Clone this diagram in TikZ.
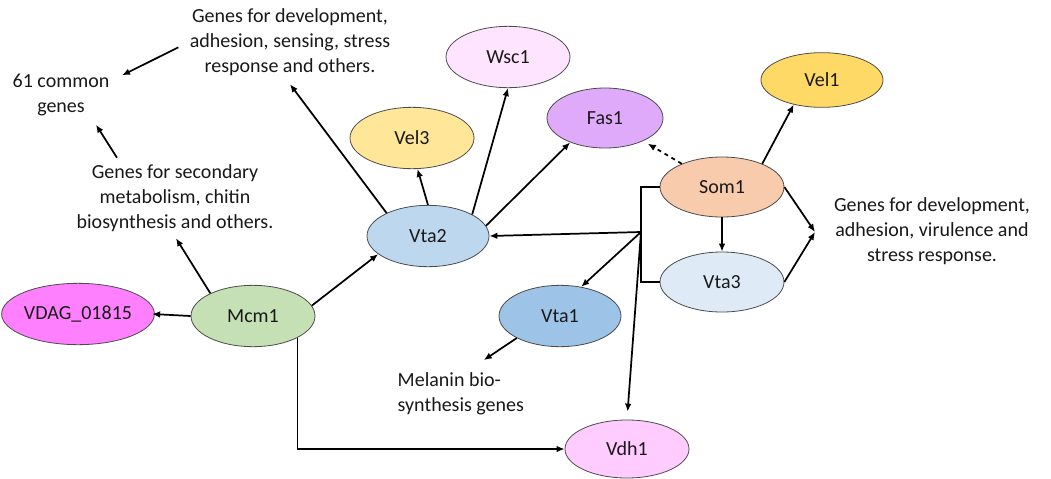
\documentclass[tikz,border=0pt]{standalone}
\usepackage{fontspec}
\setmainfont{Carlito}
\usetikzlibrary{arrows.meta,shapes.geometric,positioning,calc}
\definecolor{WscPink}{RGB}{255,228,255}
\definecolor{VelThree}{RGB}{255,230,153}
\definecolor{FasPurple}{RGB}{224,170,250}
\definecolor{VtaTwo}{RGB}{189,215,238}
\definecolor{SomPeach}{RGB}{248,203,173}
\definecolor{VtaThree}{RGB}{222,235,247}
\definecolor{VelOne}{RGB}{255,217,102}
\definecolor{VtaOne}{RGB}{157,195,230}
\definecolor{McmGreen}{RGB}{197,224,180}
\definecolor{VdagMagenta}{RGB}{255,128,255}
\definecolor{VdhPink}{RGB}{255,204,255}

\begin{document}
\begin{tikzpicture}[x=0.75pt, y=-0.75pt,
  every node/.style={font=\fontsize{15}{18.75}\selectfont, text=black!90},
  gene/.style={draw=black!70, line width=0.6pt, ellipse, inner sep=0pt, minimum width=93pt, minimum height=46pt},
  arr/.style={-{Latex[length=6pt,width=5pt]}, line width=1.3pt}]
\useasboundingbox[fill=white] (0,0) rectangle (1051,479);

% genes
\node[gene, fill=WscPink] (wsc1) at (508,57) {Wsc1};
\node[gene, fill=VelThree] (vel3) at (412,138) {Vel3};
\node[gene, fill=FasPurple, minimum width=87pt, minimum height=45pt] (fas1) at (605,118) {Fas1};
\node[gene, fill=VtaTwo, minimum width=91.5pt] (vta2) at (428,236) {Vta2};
\node[gene, fill=SomPeach, minimum height=45pt] (som1) at (722,187) {Som1};
\node[gene, fill=VtaThree, minimum height=45pt] (vta3) at (722,282) {Vta3};
\node[gene, fill=VelOne, minimum width=91.5pt, minimum height=41pt] (vel1) at (822,80) {Vel1};
\node[gene, fill=VtaOne, minimum width=91.5pt] (vta1) at (560,316) {Vta1};
\node[gene, fill=McmGreen] (mcm1) at (253,316) {Mcm1};
\node[gene, fill=VdagMagenta] (vdag) at (78,314) {VDAG\_01815};
\node[gene, fill=VdhPink, minimum height=43.5pt] (vdh1) at (627,449) {Vdh1};

% gene groups
\node[align=center] (common) at (61,95) {61 common\\genes};
\node[align=center] (devsens) at (290,42) {Genes for development,\\adhesion, sensing, stress\\response and others.};
\node[align=center] (second) at (175,198) {Genes for secondary\\metabolism, chitin\\biosynthesis and others.};
\node[align=center] (devvir) at (932,231) {Genes for development,\\adhesion, virulence and\\stress response.};
\node[align=left, anchor=west] (melanin) at (393,394) {Melanin bio-\\synthesis genes};

\coordinate (jn) at (641,232);
\coordinate (tip) at (815,232);

% connectors
\draw[arr] (vta2.151) -- ([yshift=-3pt]devsens.south);
\draw[arr] ([xshift=-5pt,yshift=-4pt]devsens.west) -- ([shift={(8,6)}]common.north east);
\draw[arr] ([shift={(-58,-2)}]second.north) -- ([shift={(35,4)}]common.south);
\draw[arr] (mcm1.152) -- ([shift={(1,2)}]second.south);
\draw[arr] (mcm1.west) -- ([xshift=-2pt]vdag.east);
\draw[arr] (mcm1.10) -- (vta2.200);
\draw[arr] (mcm1.-26) |- (vdh1.west);
\draw[arr] (vta2.north) -- (vel3.-80);
\draw[arr] (vta2.26) -- (wsc1.south);
\draw[arr] (vta2.10) -- (fas1.215);
\draw[arr, dashed, shorten >=4pt] (som1.150) -- (fas1.-31);
\draw[arr] (som1.30) -- (vel1.221);
\draw[arr] (som1.south) -- (vta3.north);
\draw[arr] (som1.east) -- (tip);
\draw[arr] (vta3.east) -- (tip);
\draw[line width=1.3pt] (som1.west) -- (som1.west -| jn) -- (vta3.west -| jn) -- (vta3.west);
\draw[arr] (jn) -- (vta2.east);
\draw[arr] (jn) -- (vta1.54);
\draw[arr, shorten >=6pt] (jn) -- (vdh1.north);
\draw[arr] (vta1.207) -- ([shift={(23,-8)}]melanin.north);
\end{tikzpicture}
\end{document}
